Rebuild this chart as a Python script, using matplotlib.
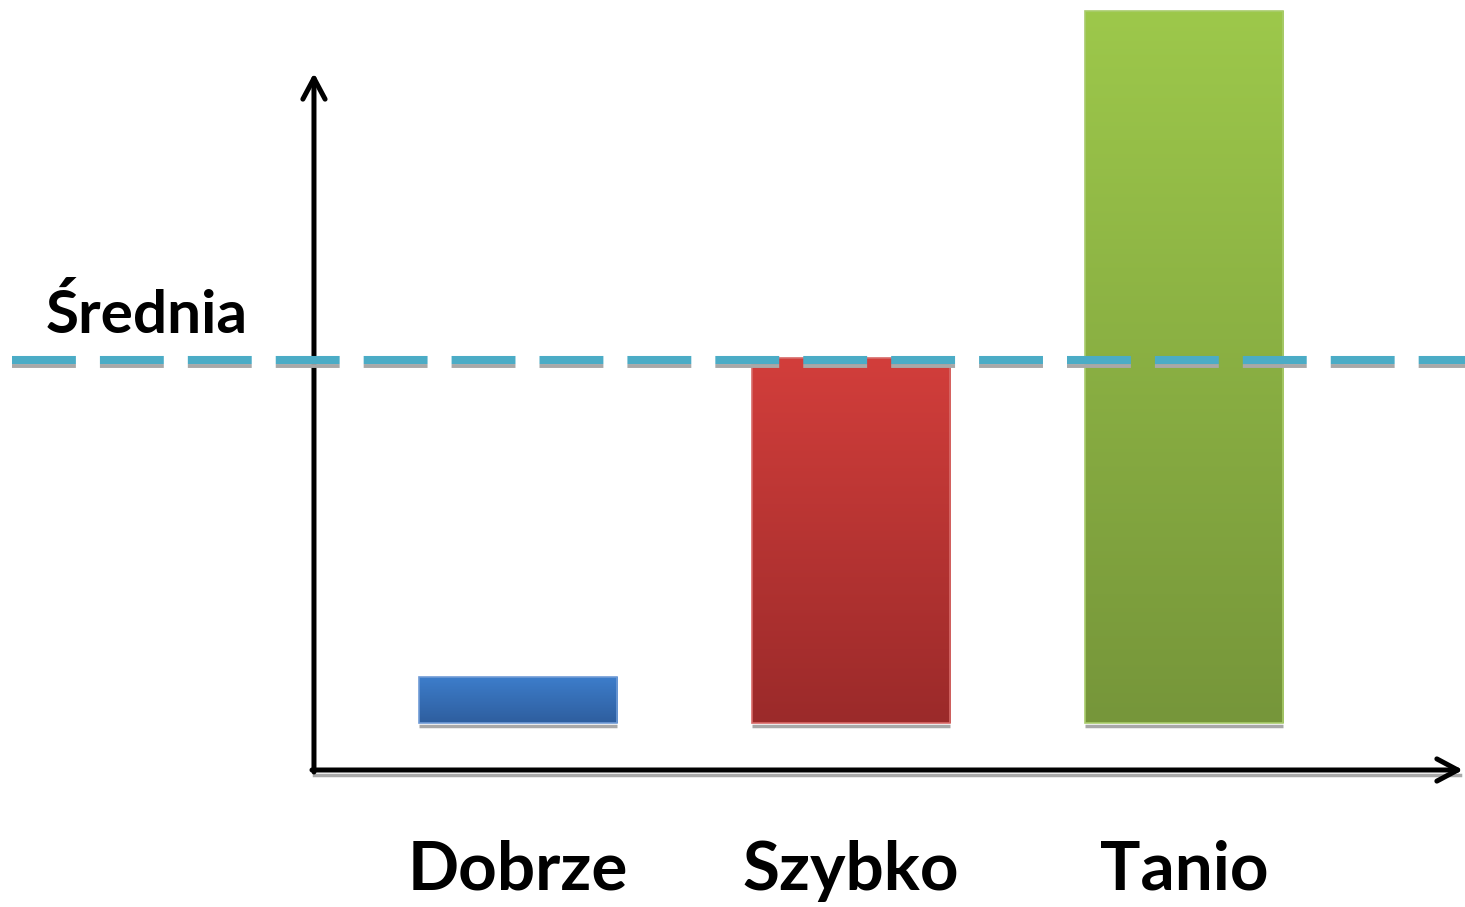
import numpy as np
import matplotlib
matplotlib.use("Agg")
import matplotlib.pyplot as plt

# ---------- data (arbitrary units) ----------
categories = ["Dobrze", "Szybko", "Tanio"]
values = [46, 365, 712]
mean_value = 363
mean_label = "Średnia"

top_colors = ["#3d7dcb", "#d23e3b", "#9dc84b"]
bottom_colors = ["#2e5e9e", "#9b2a2a", "#76963a"]
edge_colors = ["#6f9bd6", "#d86a68", "#a9cc6c"]

plt.rcParams["lines.scale_dashes"] = False
FONT = "Lato"

fig = plt.figure(figsize=(14.65, 9.07), dpi=100)
ax = fig.add_axes([0, 0, 1, 1])
ax.set_xlim(-1.556, 2.844)
ax.set_ylim(-184, 723)
ax.axis("off")

x = np.arange(len(categories))
width = 0.595

def hex2rgb(h):
    return np.array([int(h[i:i + 2], 16) / 255 for i in (1, 3, 5)])

# bars with vertical gradient
for xi, v, ct, cb, ce in zip(x, values, top_colors, bottom_colors, edge_colors):
    t = np.linspace(0, 1, 200)[:, None]
    grad = (1 - t) * hex2rgb(ct) + t * hex2rgb(cb)
    ax.imshow(grad[:, None, :], extent=(xi - width / 2, xi + width / 2, 0, v),
              origin="upper", aspect="auto", zorder=2, interpolation="bilinear")
    ax.bar(xi, v, width=width, fill=False, edgecolor=ce, linewidth=1.2, zorder=3)
    # soft shadow under the bar
    ax.plot([xi - width / 2, xi + width / 2], [-3, -3], color="#a8a8a8", lw=2.5,
            solid_capstyle="butt", zorder=1)

# axes with arrows
y_axis_x = -0.613
x_axis_y = -47
arrow = dict(arrowstyle="->,head_length=1.5,head_width=0.8",
             lw=3.6, color="black", shrinkA=0, shrinkB=0)
ax.plot([y_axis_x, 2.83], [x_axis_y - 5, x_axis_y - 5], color="#a8a8a8", lw=2.5, zorder=1)
ax.annotate("", xy=(y_axis_x, 650), xytext=(y_axis_x, x_axis_y - 2),
            arrowprops=arrow, zorder=4)
ax.annotate("", xy=(2.838, x_axis_y), xytext=(y_axis_x - 0.006, x_axis_y),
            arrowprops=arrow, zorder=4)

# dashed mean line with grey shadow
x0_line, x1_line = -1.520, 2.844
ax.plot([x0_line, x1_line], [mean_value - 6, mean_value - 6], color="#a8a8a8", lw=2.8,
        dashes=(46, 17.3), dash_capstyle="butt", zorder=5)
ax.plot([x0_line, x1_line], [mean_value, mean_value], color="#4bacc6", lw=5.8,
        dashes=(46, 17.3), dash_capstyle="butt", zorder=6)

ax.text(-1.42, 390, mean_label, fontsize=43.5, fontweight="bold", family=FONT,
        ha="left", va="baseline", color="black")

for xi, name in zip(x, categories):
    ax.text(xi, -167, name, fontsize=48.5, fontweight="bold", family=FONT,
            ha="center", va="baseline", color="black")

fig.savefig("out.png", dpi=100)
